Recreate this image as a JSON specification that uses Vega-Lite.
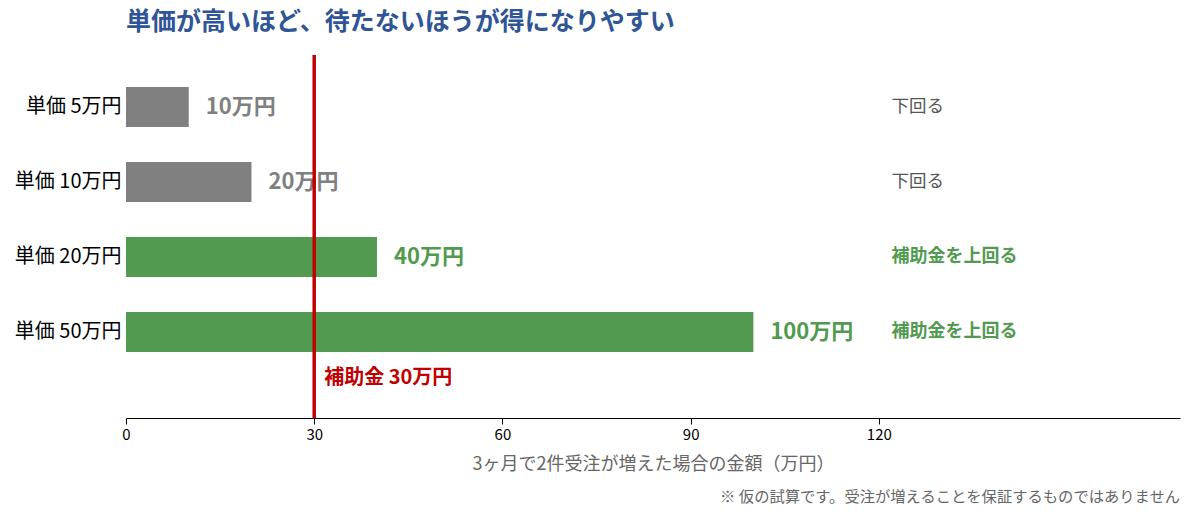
{
  "$schema": "https://vega.github.io/schema/vega-lite/v6.json",
  "autosize": "none",
  "width": 1054,
  "height": 363,
  "padding": {"left": 126, "top": 55, "right": 13, "bottom": 99},
  "config": {
    "background": "white",
    "view": {"stroke": null},
    "font": "Noto Sans CJK JP"
  },
  "title": {
    "text": "単価が高いほど、待たないほうが得になりやすい",
    "anchor": "start",
    "frame": "group",
    "fontSize": 25,
    "fontWeight": "bold",
    "color": "#2f5597",
    "offset": 18
  },
  "data": {
    "values": [
      {"price": "単価 5万円", "amount": 10, "label": "10万円", "result": "下回る", "status": "below"},
      {"price": "単価 10万円", "amount": 20, "label": "20万円", "result": "下回る", "status": "below"},
      {"price": "単価 20万円", "amount": 40, "label": "40万円", "result": "補助金を上回る", "status": "above"},
      {"price": "単価 50万円", "amount": 100, "label": "100万円", "result": "補助金を上回る", "status": "above"}
    ]
  },
  "encoding": {
    "y": {
      "field": "price",
      "type": "nominal",
      "sort": null,
      "scale": {"paddingInner": 0.4667, "paddingOuter": 0.653, "align": 0.327},
      "axis": {
        "title": null,
        "ticks": false,
        "domain": false,
        "labelFontSize": 20,
        "labelColor": "black",
        "labelPadding": 5
      }
    }
  },
  "layer": [
    {
      "mark": {"type": "bar"},
      "encoding": {
        "x": {
          "field": "amount",
          "type": "quantitative",
          "scale": {"domain": [0, 168], "nice": false},
          "axis": {
            "values": [0, 30, 60, 90, 120],
            "grid": false,
            "labelFlush": false,
            "domainColor": "black",
            "tickColor": "black",
            "tickSize": 6,
            "labelFontSize": 15,
            "labelColor": "black",
            "labelPadding": 3,
            "title": "3ヶ月で2件受注が増えた場合の金額（万円）",
            "titleFontSize": 18,
            "titleFontWeight": "normal",
            "titleColor": "#666666",
            "titlePadding": 13
          }
        },
        "color": {
          "field": "status",
          "type": "nominal",
          "scale": {"domain": ["below", "above"], "range": ["#808080", "#519a50"]},
          "legend": null
        }
      }
    },
    {
      "mark": {"type": "text", "align": "left", "dx": 17, "fontSize": 22, "fontWeight": "bold"},
      "encoding": {
        "x": {"field": "amount", "type": "quantitative"},
        "text": {"field": "label"},
        "color": {"field": "status", "type": "nominal", "legend": null}
      }
    },
    {
      "transform": [{"filter": "datum.status === 'below'"}],
      "mark": {"type": "text", "align": "left", "fontSize": 17.5, "color": "#555555"},
      "encoding": {
        "x": {"datum": 122},
        "text": {"field": "result"}
      }
    },
    {
      "transform": [{"filter": "datum.status === 'above'"}],
      "mark": {"type": "text", "align": "left", "fontSize": 18, "fontWeight": "bold", "color": "#519a50"},
      "encoding": {
        "x": {"datum": 122},
        "text": {"field": "result"}
      }
    },
    {
      "data": {"values": [{"subsidy": 30, "note": "補助金 30万円", "price": "単価 50万円"}]},
      "layer": [
        {
          "mark": {"type": "rule", "color": "#c00000", "strokeWidth": 3.5},
          "encoding": {
            "x": {"field": "subsidy", "type": "quantitative"},
            "y": null
          }
        },
        {
          "mark": {"type": "text", "align": "left", "dx": 10, "dy": 46, "fontSize": 20, "fontWeight": "bold", "color": "#c00000"},
          "encoding": {
            "x": {"field": "subsidy", "type": "quantitative"},
            "text": {"field": "note"}
          }
        }
      ]
    },
    {
      "data": {"values": [{"footnote": "※ 仮の試算です。受注が増えることを保証するものではありません"}]},
      "mark": {"type": "text", "align": "right", "baseline": "middle", "x": "width", "y": "height", "dy": 79, "fontSize": 15.3, "color": "#666666"},
      "encoding": {
        "text": {"field": "footnote"},
        "y": null
      }
    }
  ]
}
